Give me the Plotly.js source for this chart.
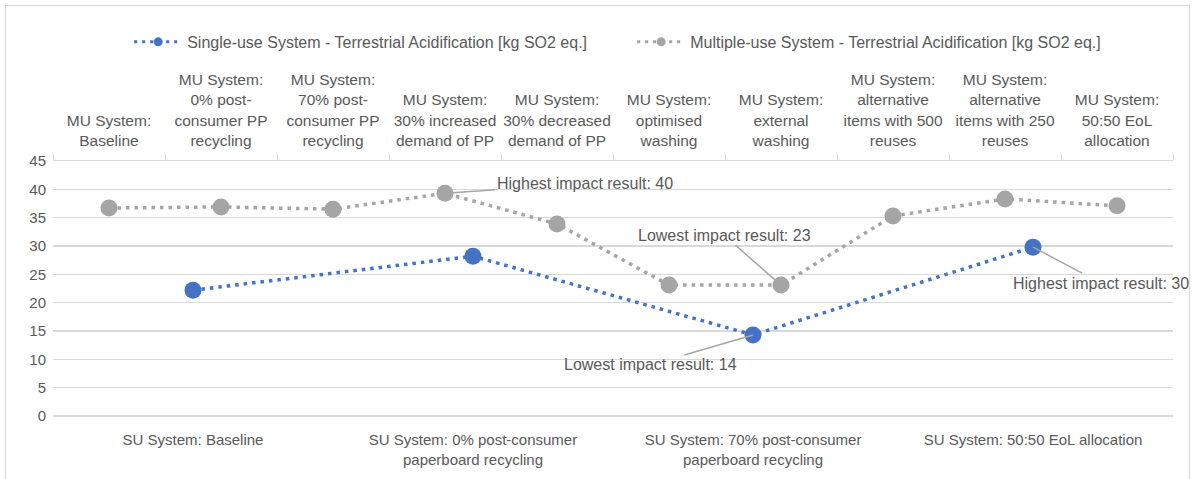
<!DOCTYPE html>
<html>
<head>
<meta charset="utf-8">
<script src="https://cdn.plot.ly/plotly-3.0.1.min.js"></script>
<style>
html,body{margin:0;padding:0;background:#fff;overflow:hidden;}
#frame{position:absolute;left:5px;top:5px;width:1185px;height:500px;border:1px solid #d9d9d9;box-sizing:border-box;}
#chart{position:absolute;left:0;top:0;width:1196px;height:479px;}
</style>
</head>
<body>
<div id="frame"></div>
<div id="chart"></div>
<script>
const suCategories = [
  "SU System: Baseline",
  "SU System: 0% post-consumer<br>paperboard recycling",
  "SU System: 70% post-consumer<br>paperboard recycling",
  "SU System: 50:50 EoL allocation"
];
const suValues = [22.2, 28.2, 14.3, 29.8];

const muCategories = [
  "MU System:<br>Baseline",
  "MU System:<br>0% post-<br>consumer PP<br>recycling",
  "MU System:<br>70% post-<br>consumer PP<br>recycling",
  "MU System:<br>30% increased<br>demand of PP",
  "MU System:<br>30% decreased<br>demand of PP",
  "MU System:<br>optimised<br>washing",
  "MU System:<br>external<br>washing",
  "MU System:<br>alternative<br>items with 500<br>reuses",
  "MU System:<br>alternative<br>items with 250<br>reuses",
  "MU System:<br>50:50 EoL<br>allocation"
];
const muValues = [36.7, 36.9, 36.5, 39.3, 33.9, 23.1, 23.1, 35.3, 38.3, 37.1];

const suName = "Single-use System - Terrestrial Acidification [kg SO2 eq.]";
const muName = "Multiple-use System - Terrestrial Acidification [kg SO2 eq.]";

const notes = [
  {text: "Highest impact result: 40", axis: "x2", idx: 3, series: "mu", ax: 140, ay: -10},
  {text: "Lowest impact result: 23", axis: "x2", idx: 6, series: "mu", ax: -57, ay: -50},
  {text: "Lowest impact result: 14", axis: "x", idx: 2, series: "su", ax: -103, ay: 30},
  {text: "Highest impact result: 30", axis: "x", idx: 3, series: "su", ax: 68, ay: 36}
];

const FONT = "Liberation Sans, Arial, sans-serif";
const TXT = "#595959";
const GRID = "#d9d9d9";
const BLUE = "#4472C4";
const GREY = "#A5A5A5";
const DOT = "3.5px,5px";

const traces = [
  {
    x: suCategories, y: suValues, name: suName, type: "scatter", mode: "lines+markers",
    xaxis: "x", yaxis: "y", showlegend: false,
    line: {color: BLUE, width: 3.5, dash: DOT},
    marker: {color: BLUE, size: 17}
  },
  {
    x: muCategories, y: muValues, name: muName, type: "scatter", mode: "lines+markers",
    xaxis: "x2", yaxis: "y", showlegend: false,
    line: {color: GREY, width: 3.5, dash: DOT},
    marker: {color: GREY, size: 17}
  },
  // legend entries (smaller symbols, as in the reference legend)
  {
    x: [null], y: [null], name: suName, type: "scatter", mode: "lines+markers",
    xaxis: "x", yaxis: "y",
    line: {color: BLUE, width: 3, dash: "3px,5px"},
    marker: {color: BLUE, size: 9}
  },
  {
    x: [null], y: [null], name: muName, type: "scatter", mode: "lines+markers",
    xaxis: "x", yaxis: "y",
    line: {color: GREY, width: 3, dash: "3px,5px"},
    marker: {color: GREY, size: 9}
  }
];

const annotations = notes.map(n => ({
  x: n.axis === "x" ? suCategories[n.idx] : muCategories[n.idx],
  y: n.series === "su" ? suValues[n.idx] : muValues[n.idx],
  xref: n.axis, yref: "y",
  text: n.text, showarrow: true, arrowhead: 0, arrowwidth: 1.5, arrowcolor: "#a6a6a6",
  ax: n.ax, ay: n.ay, standoff: 0,
  font: {family: FONT, size: 16, color: TXT}
}));

const layout = {
  width: 1196, height: 479,
  margin: {l: 53, r: 23, t: 161, b: 63},
  paper_bgcolor: "rgba(0,0,0,0)", plot_bgcolor: "rgba(0,0,0,0)",
  font: {family: FONT, size: 15, color: TXT},
  showlegend: true,
  legend: {orientation: "h", x: 0.068, xanchor: "left", y: 1.467, yanchor: "middle",
    entrywidth: 440, entrywidthmode: "pixels",
    font: {family: FONT, size: 16, color: TXT}, itemwidth: 48, bgcolor: "rgba(0,0,0,0)"},
  xaxis: {
    type: "category", categoryarray: suCategories, range: [-0.5, 3.5],
    showgrid: false, zeroline: false, showline: false, ticks: "", tickangle: 0,
    tickfont: {family: FONT, size: 15, color: TXT}, ticklabelstandoff: 13,
    fixedrange: true
  },
  xaxis2: {
    type: "category", categoryarray: muCategories, range: [-0.5, 9.5],
    overlaying: "x", side: "top", anchor: "y", tickangle: 0,
    showgrid: false, zeroline: false, showline: true, linecolor: GRID, linewidth: 1,
    ticks: "outside", tickson: "boundaries", ticklen: 6, tickcolor: GRID, tickwidth: 1,
    tickfont: {family: FONT, size: 15.5, color: TXT}, ticklabelstandoff: 8,
    fixedrange: true
  },
  yaxis: {
    range: [0, 45], dtick: 5, tick0: 0,
    showgrid: true, gridcolor: GRID, gridwidth: 1.3,
    zeroline: true, zerolinecolor: GRID, zerolinewidth: 1.3,
    showline: false, ticks: "",
    tickfont: {family: FONT, size: 15, color: TXT}, ticklabelstandoff: 6,
    fixedrange: true
  },
  annotations: annotations
};

Plotly.newPlot("chart", traces, layout, {displayModeBar: false, staticPlot: true});
</script>
</body>
</html>
